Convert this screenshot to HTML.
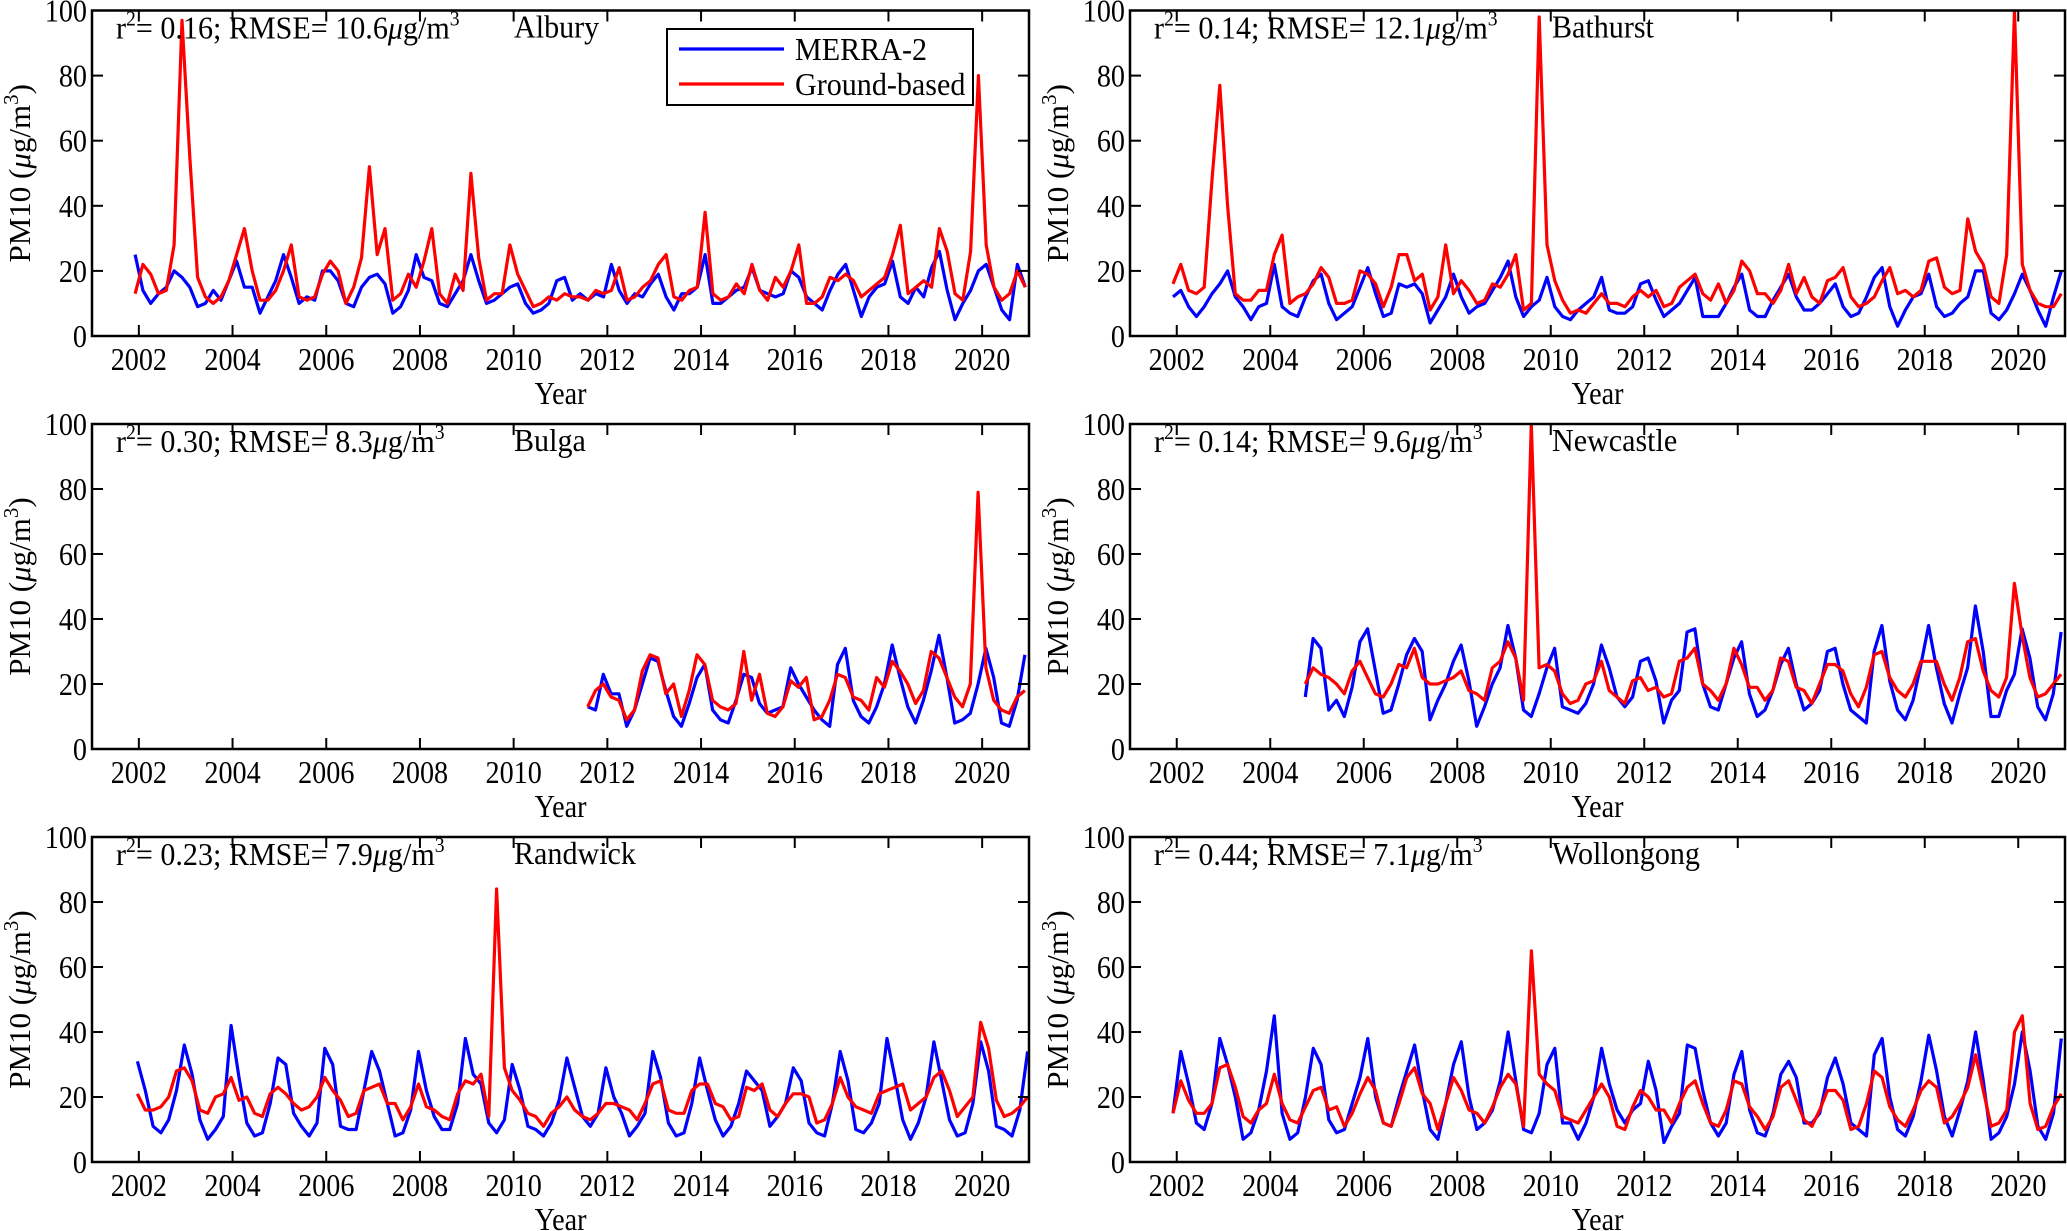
<!DOCTYPE html>
<html><head><meta charset="utf-8"><style>
html,body{margin:0;padding:0;background:#fff}
svg{display:block}
text{font-family:"Liberation Serif",serif;fill:#000}
</style></head><body>
<svg id="fig" width="2067" height="1231" viewBox="0 0 2067 1231" xmlns="http://www.w3.org/2000/svg"></svg>
<script>
// Tick labels
const xTicks = [2002,2004,2006,2008,2010,2012,2014,2016,2018,2020];
const yTicks = [0,20,40,60,80,100];
// Bimonthly samples (Dec, Feb, Apr, Jun, Aug, Oct ...)
const alburyStart = 2001.92;
const alburyMerra = [25,14,10,13,15,20, 18,15,9,10,14,11, 17,23,15,15,7,12, 17,25,18,10,12,11, 20,20,17,10,9,15, 18,19,16,7,9,14, 25,18,17,10,9,13, 17,25,17,10,11,13, 15,16,10,7,8,10, 17,18,11,13,11,13, 12,22,14,10,13,12, 16,19,12,8,13,13, 15,25,10,10,12,14, 15,21,14,13,12,13, 20,18,12,10,8,14, 19,22,14,6,12,15, 16,23,12,10,15,12, 21,26,14,5,10,14, 20,22,15,8,5,22, 15];
const alburyGround = [13,22,19,13,14,28, 97,55,18,12,10,12, 17,25,33,20,11,11, 14,20,28,12,11,12, 19,23,20,10,15,24, 52,25,33,11,13,19, 15,23,33,13,10,19, 14,50,24,11,13,13, 28,19,14,9,10,12, 11,13,12,12,11,14, 13,14,21,11,12,15, 17,22,25,12,11,14, 15,38,13,11,12,16, 13,22,14,11,18,15, 20,28,10,10,12,18, 17,19,17,12,14,16, 18,25,34,13,15,17, 15,33,26,13,11,26, 80,28,15,11,13,20, 15];
const bathurstStart = 2001.92;
const bathurstMerra = [12,14,9,6,9,13, 16,20,12,9,5,9, 10,22,9,7,6,12, 17,19,10,5,7,9, 15,21,13,6,7,16, 15,16,13,4,8,12, 19,12,7,9,10,14, 18,23,12,6,9,11, 18,9,6,5,8,10, 12,18,8,7,7,9, 16,17,11,6,8,10, 14,18,6,6,6,10, 15,19,8,6,6,11, 15,19,12,8,8,10, 13,16,9,6,7,12, 18,21,9,3,8,12, 13,19,9,6,7,10, 12,20,20,7,5,8, 13,19,14,8,3,12, 20];
const bathurstGround = [16,22,14,13,15,48, 77,40,13,11,11,14, 14,25,31,10,12,13, 16,21,18,10,10,11, 20,19,16,9,15,25, 25,17,19,8,12,28, 13,17,14,10,11,16, 15,19,25,8,10,98, 28,17,11,7,8,7, 10,13,10,10,9,12, 14,12,14,9,10,15, 17,19,13,11,16,10, 14,23,20,13,13,10, 14,22,13,18,12,10, 17,18,21,12,9,10, 12,17,21,13,14,12, 14,23,24,15,13,14, 36,26,22,12,10,25, 100,22,14,10,9,9, 13];
const bulgaStart = 2011.58;
const bulgaMerra = [13,12, 23,17,17,7,12,20, 28,27,18,10,7,14, 22,26,12,9,8,15, 23,22,14,11,12,13, 25,20,16,12,9,7, 26,31,15,10,8,13, 20,32,22,13,8,15, 24,35,22,8,9,11, 20,31,22,8,7,15, 29];
const bulgaGround = [13,18, 20,16,15,9,12,24, 29,28,17,20,10,18, 29,26,15,13,12,14, 30,15,23,11,10,13, 21,19,22,9,10,15, 23,22,16,15,12,22, 19,27,24,20,14,18, 30,28,22,16,13,20, 79,25,15,12,11,16, 18];
const newcastleStart = 2004.75;
const newcastleMerra = [16, 34,31,12,15,10,19, 33,37,24,11,12,20, 29,34,30,9,15,20, 27,32,21,7,13,20, 25,38,28,12,10,17, 25,31,13,12,11,14, 20,32,25,16,13,16, 27,28,21,8,15,18, 36,37,20,13,12,20, 28,33,17,10,12,18, 26,31,20,12,14,18, 30,31,20,12,10,8, 30,38,21,12,9,15, 26,38,25,14,8,17, 25,44,30,10,10,18, 23,37,28,13,9,17, 36];
const newcastleGround = [20, 25,23,22,20,17,24, 27,22,17,16,20,26, 25,31,22,20,20,21, 22,24,18,17,15,25, 27,33,28,15,100,25, 26,24,17,14,15,20, 21,27,18,16,14,21, 22,18,19,16,17,27, 28,31,20,18,15,20, 31,26,19,19,15,18, 28,27,19,18,14,20, 26,26,24,17,13,19, 29,30,22,18,16,20, 27,27,27,20,15,22, 33,34,24,18,16,22, 51,35,22,16,17,20, 23];
const randwickStart = 2001.97;
const randwickMerra = [31,22,11,9,13,22, 36,27,13,7,10,14, 42,26,12,8,9,18, 32,30,15,11,8,12, 35,30,11,10,10,22, 34,28,18,8,9,16, 34,22,14,10,10,18, 38,27,24,12,9,13, 30,22,11,10,8,12, 19,32,23,14,11,15, 29,20,15,8,11,15, 34,26,12,8,9,18, 32,22,13,8,11,18, 28,25,22,11,14,18, 29,25,12,9,8,18, 34,25,10,9,12,18, 38,26,13,7,12,20, 37,25,13,8,9,18, 37,28,11,10,8,16, 34];
const randwickGround = [21,16,16,17,20,28, 29,25,16,15,20,21, 26,19,20,15,14,21, 23,21,18,16,17,20, 26,22,19,14,15,22, 23,24,18,18,13,17, 24,17,16,14,13,21, 25,24,27,14,84,29, 22,19,15,14,11,15, 17,20,16,14,13,15, 18,18,17,16,13,18, 24,25,16,15,15,22, 24,24,18,17,13,14, 23,22,24,16,14,18, 21,21,20,12,13,18, 26,20,17,16,15,21, 22,23,24,16,18,20, 26,28,22,14,17,20, 43,35,19,14,15,17, 20];
const wollongongStart = 2001.92;
const wollongongMerra = [15,34,24,12,10,18, 38,30,20,7,9,16, 28,45,15,7,9,20, 35,30,13,9,10,18, 26,38,20,12,11,20, 28,36,22,10,7,18, 30,37,20,10,12,16, 25,40,25,10,9,15, 30,35,12,12,7,12, 20,35,24,16,12,16, 18,31,22,6,11,15, 36,35,22,12,8,12, 27,34,16,9,8,15, 27,31,26,12,12,15, 26,32,24,12,10,8, 33,38,20,10,8,14, 25,39,28,14,8,16, 25,40,25,7,9,14, 24,40,28,11,7,15, 38];
const wollongongGround = [15,25,19,15,15,18, 29,30,23,14,12,16, 18,27,18,13,12,17, 22,23,16,17,11,15, 21,26,22,12,11,18, 26,29,21,18,10,18, 26,22,16,15,12,17, 23,27,24,11,65,27, 24,22,14,13,12,16, 20,24,20,11,10,17, 22,20,16,16,12,18, 23,25,18,12,11,16, 25,24,17,14,10,14, 23,25,19,13,11,16, 22,22,19,10,11,18, 28,26,17,13,11,16, 22,25,23,12,14,18, 23,33,22,11,12,16, 40,45,18,10,11,17, 21];

const NS = "http://www.w3.org/2000/svg";
const svg = document.getElementById('fig');
function mk(tag, attrs, parent){ const e=document.createElementNS(NS,tag); for(const k in attrs) e.setAttribute(k,attrs[k]); (parent||svg).appendChild(e); return e; }

const cols = [[92,1029],[1130,2065]];
const rows = [[10.5,336],[424,749],[837,1162]];
const panels = [
 {id:'albury', name:'Albury', r2:'0.16', rmse:'10.6', c:0, r:0, start:alburyStart, m:alburyMerra, g:alburyGround, legend:true},
 {id:'bathurst', name:'Bathurst', r2:'0.14', rmse:'12.1', c:1, r:0, start:bathurstStart, m:bathurstMerra, g:bathurstGround},
 {id:'bulga', name:'Bulga', r2:'0.30', rmse:'8.3', c:0, r:1, start:bulgaStart, m:bulgaMerra, g:bulgaGround},
 {id:'newcastle', name:'Newcastle', r2:'0.14', rmse:'9.6', c:1, r:1, start:newcastleStart, m:newcastleMerra, g:newcastleGround},
 {id:'randwick', name:'Randwick', r2:'0.23', rmse:'7.9', c:0, r:2, start:randwickStart, m:randwickMerra, g:randwickGround},
 {id:'wollongong', name:'Wollongong', r2:'0.44', rmse:'7.1', c:1, r:2, start:wollongongStart, m:wollongongMerra, g:wollongongGround}
];

function ctext(parent, x, y, str, size, anchor, sx){
  const t = mk('text', {x:0, y:0, 'font-size':size, 'text-anchor':anchor||'middle', transform:`translate(${x},${y}) scale(${sx||0.88},1)`}, parent);
  t.textContent = str; return t;
}

panels.forEach(p=>{
  const [x0,x1] = cols[p.c], [y0,y1] = rows[p.r];
  const X = v => x0 + (v-2001)/(2021-2001)*(x1-x0);
  const Y = v => y1 - Math.min(v,100)/100*(y1-y0);
  const g = mk('g', {});
  
  
  const cp = mk('clipPath', {id:'clip-'+p.id}, g);
  mk('rect', {x:x0, y:y0, width:x1-x0, height:y1-y0}, cp);
  [['m','#0000ff','merra-2'],['g','#ff0000','ground-based']].forEach(([k,col,nm])=>{
    const vals = p[k];
    const d = vals.map((v,i)=>(i?'L':'M')+X(p.start+i/6).toFixed(1)+','+Y(v).toFixed(1)).join('');
    const path = mk('path', {d, fill:'none', stroke:col, 'stroke-width':3.2, 'stroke-linejoin':'round', 'clip-path':`url(#clip-${p.id})`}, g);
    
    
  });
  const fr = mk('rect', {x:x0, y:y0, width:x1-x0, height:y1-y0, fill:'none', stroke:'#000', 'stroke-width':2.5}, g);
  
  
  const xa = mk('g', {}, g);
  
  
  xTicks.forEach(v=>{
    const x = X(v);
    mk('line', {x1:x, x2:x, y1:y1, y2:y1-11, stroke:'#000', 'stroke-width':2}, xa);
    mk('line', {x1:x, x2:x, y1:y0, y2:y0+11, stroke:'#000', 'stroke-width':2}, xa);
    ctext(xa, x, y1+34, String(v), 32, 'middle');
  });
  const xt = ctext(xa, (x0+x1)/2, y1+68, 'Year', 32, 'middle');
  
  
  const ya = mk('g', {}, g);
  
  
  yTicks.forEach(v=>{
    const y = Y(v);
    mk('line', {x1:x0, x2:x0+11, y1:y, y2:y, stroke:'#000', 'stroke-width':2}, ya);
    mk('line', {x1:x1, x2:x1-11, y1:y, y2:y, stroke:'#000', 'stroke-width':2}, ya);
    ctext(ya, x0-5, y+11, String(v), 32, 'end');
  });
  const yl = mk('text', {x:0, y:0, 'font-size':31, 'text-anchor':'middle', transform:`translate(${x0-62},${(y0+y1)/2}) rotate(-90)`}, ya);
  yl.innerHTML = 'PM10 (<tspan font-style="italic">μ</tspan>g/m<tspan font-size="21" dy="-12">3</tspan><tspan dy="12">)</tspan>';
  
  
  const an = mk('text', {x:0, y:0, 'font-size':32, transform:`translate(${x0+24},${y0+28}) scale(0.94,1)`}, g);
  an.innerHTML = `r<tspan font-size="21" dy="-13">2</tspan><tspan dy="13">= ${p.r2}; RMSE= ${p.rmse}</tspan><tspan font-style="italic">μ</tspan>g/m<tspan font-size="21" dy="-13">3</tspan>`;
  
  
  const sn = ctext(g, x0+422, y0+27, p.name, 32, 'start', 0.94);
  
  
  if(p.legend){
    const lg = mk('g', {}, g);
    
    
    mk('rect', {x:667, y:29, width:306, height:76, fill:'#fff', stroke:'#000', 'stroke-width':2}, lg);
    const e1 = mk('g', {}, lg);
    
    
    mk('line', {x1:679, x2:784, y1:49, y2:49, stroke:'#0000ff', 'stroke-width':3.2}, e1);
    ctext(e1, 795, 60, 'MERRA-2', 32, 'start', 0.94);
    const e2 = mk('g', {}, lg);
    
    
    mk('line', {x1:679, x2:784, y1:84, y2:84, stroke:'#ff0000', 'stroke-width':3.2}, e2);
    ctext(e2, 795, 95, 'Ground-based', 32, 'start', 0.94);
  }
});
</script>
</body></html>
